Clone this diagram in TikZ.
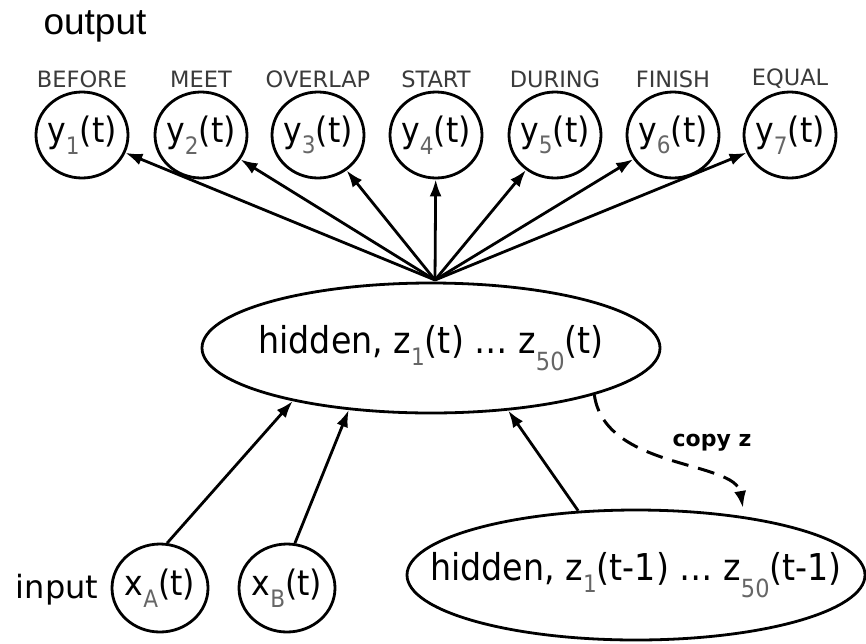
\documentclass[tikz,border=0pt]{standalone}
\usepackage{fontspec}
\setmainfont{DejaVu Sans}
\newfontfamily\cond{DejaVu Sans}[FakeStretch=0.9]
\newfontfamily\outfont{Liberation Sans}
\usetikzlibrary{shapes.geometric,arrows.meta}
\definecolor{subgray}{HTML}{666666}
\definecolor{lblgray}{HTML}{3A3A3A}
\newcommand{\sbx}[1]{\raisebox{-0.33em}{\fontsize{24}{24}\selectfont\color{subgray}#1}}
\newcommand{\sbl}[1]{\raisebox{-0.45em}{\fontsize{25}{25}\selectfont\color{subgray}#1}}
\newcommand{\zb}[1]{\makebox[0pt]{#1}}
\begin{document}
\begin{tikzpicture}[x=1pt,y=-1pt,
  outc/.style={draw, line width=2.8pt, ellipse, minimum width=92pt, minimum height=86pt, inner sep=0pt, font=\cond\fontsize{35}{35}\selectfont},
  inc/.style={draw, line width=2.8pt, ellipse, minimum width=96pt, minimum height=88pt, inner sep=0pt, font=\cond\fontsize{35}{35}\selectfont},
  hid/.style={draw, line width=2.8pt, ellipse, minimum width=458pt, minimum height=130pt, inner sep=0pt, font=\cond\fontsize{37}{37}\selectfont},
  lbl/.style={font=\fontsize{22.5}{22.5}\selectfont, text=lblgray},
  arr/.style={line width=2.8pt, -{Latex[length=17pt,width=12pt]}},
  darr/.style={line width=3pt, dash pattern=on 17pt off 10pt, -{Latex[length=17pt,width=12pt]}}
]
\useasboundingbox (0,0) rectangle (866,643);

\node[font=\outfont\fontsize{37}{37}\selectfont] (out) at (95,26) {output};

\foreach \i/\x/\t in {1/82/BEFORE,2/201/MEET,3/318/OVERLAP,4/436/START,5/555/DURING,6/673/FINISH,7/790/EQUAL}{
  \node[outc] (y\i) at (\x,135) {\zb{y\sbx{\i}(t)}};
  \node[lbl] (l\i) at (\x,79) {\t};
}

\node[hid] (h) at (431,348) {\zb{hidden, z\sbx{1}(t) … z\sbl{50}(t)}};
\node[hid] (hp) at (636,575) {\zb{hidden, z\sbx{1}(t-1) … z\sbl{50}(t-1)}};

\node[inc] (xa) at (160,588) {\zb{x\sbx{A}(t)}};
\node[inc] (xb) at (287,588) {\zb{x\sbx{B}(t)}};
\node[font=\fontsize{32}{32}\selectfont] (inp) at (57,590) {input};

\coordinate (c) at (435,280);
\foreach \i in {1,...,7}{
  \draw[arr] (c) -- (y\i);
}

\draw[arr] (xa.81) -- (h.201.6);
\draw[arr] (xb.80) -- (h.217);
\draw[arr] (hp.132.7) -- (h.321.6);

\coordinate (dend) at (743,508);
\draw[darr] (h.344.5) .. controls (605,470) and (735,460) .. (dend);
\node[font=\bfseries\fontsize{22}{22}\selectfont] (cz) at (712,443) {copy z};
\end{tikzpicture}
\end{document}
